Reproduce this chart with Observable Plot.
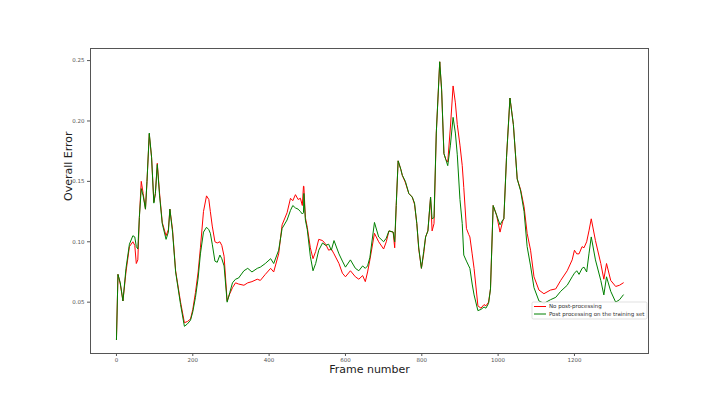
<!DOCTYPE html>
<html>
<head>
<meta charset="utf-8">
<script src="https://cdn.jsdelivr.net/npm/d3@7"></script>
<script src="https://cdn.jsdelivr.net/npm/@observablehq/plot@0.6"></script>
<style>
  html, body { margin: 0; padding: 0; background: white; }
  #chart { width: 720px; height: 397px; }
</style>
</head>
<body>
<div id="chart"></div>
<script>
const frames = [0,4,10,17,25,34,43,48,52,56,60,65,70,76,80,86,92,98,102,107,113,120,130,136,140,147,155,168,178,186,194,200,207,214,220,228,236,242,246,251,258,264,271,276,282,290,297,304,312,320,334,344,355,369,377,390,404,412,425,434,447,456,462,469,476,482,487,490,491,495,500,508,515,522,530,540,548,556,563,570,583,592,600,613,626,635,645,652,658,664,676,687,700,707,714,725,729,733,738,745,749,757,766,775,781,787,792,799,805,810,816,823,827,832,838,847,852,858,863,868,875,882,888,893,900,906,910,917,923,926,932,937,947,955,963,968,975,980,987,996,1005,1012,1015,1022,1031,1040,1050,1059,1068,1076,1085,1094,1107,1120,1137,1151,1164,1181,1194,1200,1206,1212,1220,1225,1232,1238,1244,1255,1269,1277,1284,1295,1308,1318,1328];

const noPostProcessing = [0.019,0.073,0.065,0.051,0.075,0.096,0.100,0.097,0.082,0.085,0.120,0.150,0.140,0.127,0.150,0.189,0.170,0.133,0.140,0.165,0.140,0.116,0.105,0.110,0.127,0.110,0.076,0.050,0.033,0.034,0.036,0.044,0.058,0.075,0.095,0.125,0.138,0.135,0.125,0.113,0.100,0.099,0.100,0.097,0.088,0.051,0.057,0.062,0.066,0.065,0.064,0.066,0.067,0.069,0.068,0.073,0.078,0.075,0.090,0.114,0.124,0.136,0.134,0.139,0.135,0.136,0.130,0.146,0.146,0.120,0.112,0.095,0.086,0.092,0.102,0.101,0.098,0.093,0.094,0.090,0.082,0.074,0.071,0.076,0.071,0.069,0.072,0.067,0.075,0.085,0.107,0.100,0.094,0.100,0.109,0.108,0.095,0.130,0.167,0.160,0.155,0.149,0.140,0.137,0.131,0.115,0.094,0.078,0.090,0.104,0.109,0.137,0.109,0.115,0.190,0.249,0.225,0.173,0.168,0.166,0.195,0.229,0.215,0.197,0.180,0.163,0.145,0.111,0.106,0.104,0.090,0.078,0.047,0.045,0.048,0.047,0.050,0.061,0.130,0.122,0.108,0.117,0.119,0.170,0.219,0.197,0.152,0.143,0.129,0.107,0.093,0.071,0.060,0.057,0.060,0.061,0.068,0.076,0.085,0.093,0.090,0.090,0.096,0.095,0.100,0.109,0.119,0.101,0.082,0.069,0.082,0.068,0.063,0.064,0.066];

const postTrainingSet = [0.019,0.073,0.066,0.051,0.078,0.098,0.105,0.104,0.096,0.094,0.120,0.144,0.138,0.127,0.150,0.190,0.170,0.132,0.140,0.164,0.138,0.115,0.102,0.108,0.127,0.108,0.075,0.048,0.030,0.032,0.035,0.042,0.054,0.070,0.090,0.108,0.112,0.110,0.107,0.098,0.084,0.083,0.089,0.086,0.080,0.050,0.058,0.066,0.069,0.070,0.076,0.078,0.075,0.078,0.079,0.082,0.086,0.082,0.093,0.111,0.118,0.126,0.130,0.128,0.127,0.125,0.123,0.124,0.140,0.118,0.110,0.088,0.076,0.082,0.093,0.099,0.097,0.098,0.093,0.101,0.090,0.084,0.079,0.085,0.078,0.076,0.080,0.078,0.080,0.087,0.116,0.104,0.100,0.103,0.109,0.108,0.100,0.130,0.167,0.160,0.155,0.150,0.140,0.137,0.132,0.115,0.095,0.078,0.092,0.104,0.109,0.137,0.119,0.120,0.190,0.249,0.226,0.173,0.168,0.163,0.180,0.203,0.190,0.172,0.135,0.115,0.089,0.084,0.080,0.078,0.065,0.056,0.043,0.044,0.046,0.045,0.049,0.061,0.130,0.122,0.114,0.118,0.119,0.170,0.219,0.197,0.152,0.142,0.125,0.096,0.080,0.062,0.051,0.049,0.052,0.054,0.059,0.064,0.071,0.074,0.076,0.073,0.078,0.079,0.075,0.090,0.104,0.085,0.068,0.056,0.071,0.059,0.050,0.052,0.056];

const seriesNames = ["No post-processing", "Post processing on the training set"];
const seriesColors = ["#ff0000", "#008000"];
const xTicks = [0, 200, 400, 600, 800, 1000, 1200];
const yTicks = [0.05, 0.10, 0.15, 0.20, 0.25];

const rows = [];
frames.forEach((f, i) => {
  rows.push({frame: f, error: noPostProcessing[i], series: seriesNames[0]});
});
frames.forEach((f, i) => {
  rows.push({frame: f, error: postTrainingSet[i], series: seriesNames[1]});
});

const plot = Plot.plot({
  width: 720,
  height: 397,
  marginLeft: 90,
  marginRight: 72,
  marginTop: 48,
  marginBottom: 44,
  style: {fontFamily: "DejaVu Sans, sans-serif", background: "white", color: "#555"},
  x: {domain: [-68, 1394]},
  y: {domain: [0.0075, 0.26]},
  color: {domain: seriesNames, range: seriesColors},
  marks: [
    Plot.lineY(rows.filter(d => d.series === seriesNames[0]), {x: "frame", y: "error", stroke: "series", strokeWidth: 1}),
    Plot.lineY(rows.filter(d => d.series === seriesNames[1]), {x: "frame", y: "error", stroke: "series", strokeWidth: 1}),
    Plot.frame({stroke: "#555", strokeWidth: 1}),
    Plot.axisX({ticks: xTicks, tickSize: 3, tickPadding: 2, tickFormat: d => String(d), label: null, fontSize: 5.5}),
    Plot.axisY({ticks: yTicks, tickSize: 3, tickPadding: 3, tickFormat: d => d.toFixed(2), label: null, fontSize: 5.5}),
    Plot.text(["Frame number"], {frameAnchor: "bottom", dy: 16, fontSize: 11, fill: "#222", lineAnchor: "middle"}),
    Plot.text(["Overall Error"], {frameAnchor: "left", dx: -22, rotate: -90, fontSize: 11, fill: "#222", lineAnchor: "middle"})
  ]
});

// legend (matplotlib style, lower right inside axes)
const svg = d3.select(plot);
const lg = svg.append("g").attr("transform", "translate(532,302)");
lg.append("rect").attr("width", 115).attr("height", 17).attr("rx", 1.5)
  .attr("fill", "white").attr("fill-opacity", 0.85).attr("stroke", "#ccc").attr("stroke-width", 0.6);
seriesNames.forEach((name, i) => {
  const y = 4.5 + i * 7.5;
  lg.append("line").attr("x1", 2).attr("x2", 14).attr("y1", y).attr("y2", y)
    .attr("stroke", seriesColors[i]).attr("stroke-width", 1);
  lg.append("text").attr("x", 17).attr("y", y).attr("dy", "0.35em")
    .attr("text-anchor", "start")
    .attr("font-size", 5.5).attr("font-family", "DejaVu Sans, sans-serif").attr("fill", "#333").text(name);
});

document.getElementById("chart").appendChild(plot);
</script>
</body>
</html>
